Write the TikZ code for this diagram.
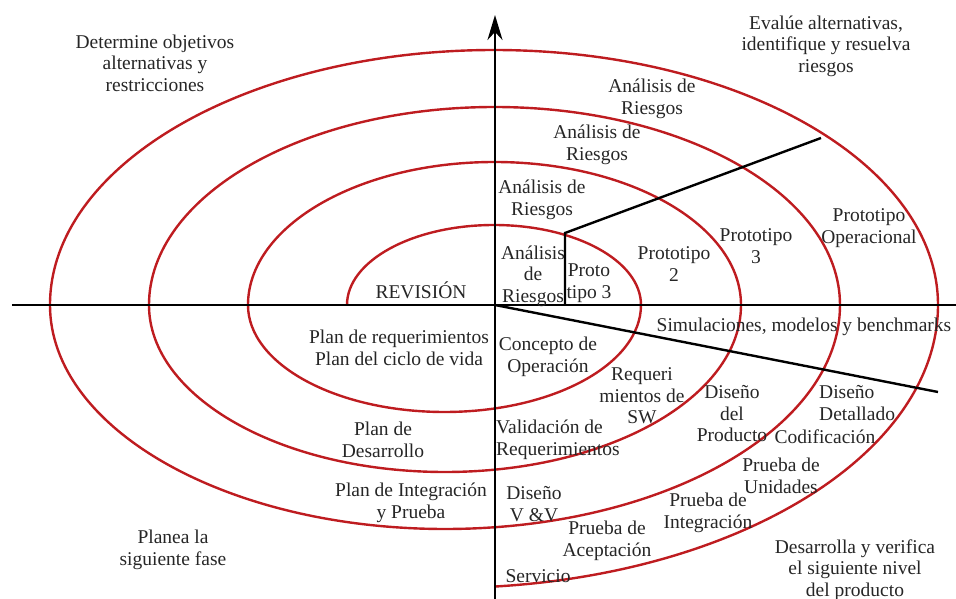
\documentclass[tikz,border=0pt]{standalone}
\usepackage{fontspec}
\setmainfont{Liberation Serif}
\usetikzlibrary{arrows.meta,calc,positioning}
\definecolor{spiralred}{RGB}{190,28,32}
\tikzset{axis/.style={
            line width=2.6pt,
            black},
        spiral/.style={
            line width=2.4pt,
            spiralred},
        cut/.style={
            line width=2.4pt,
            black},
        txt/.style={
            align=center,
            inner sep=1pt,
            text=black!85,
            font=\fontsize{19.5}{21.5}\selectfont}
    }
\begin{document}
\begin{tikzpicture}[x=1pt,y=1pt]
        \useasboundingbox (-495,-294) rectangle (461,305);
        \coordinate (O) at (0,0);
        \coordinate (west) at (-483,0);
        \coordinate (east) at (461,0);
        \coordinate (south) at (0,-294);
        \coordinate (north) at (0,290);
        \coordinate (bend) at (70,72);
        \coordinate (bendfoot) at (70,0);
        \coordinate (outer) at (326,167);
        \coordinate (rim) at (443,-87);
        % spiral, one half ellipse per turn
        \draw[spiral] (-148,0)
            arc[start angle=180,end angle=0,x radius=147pt,y radius=80pt]
            arc[start angle=0,end angle=-180,x radius=196.5pt,y radius=107pt]
            arc[start angle=180,end angle=0,x radius=246.5pt,y radius=143pt]
            arc[start angle=0,end angle=-180,x radius=296pt,y radius=167pt]
            arc[start angle=180,end angle=0,x radius=345.5pt,y radius=198pt]
            arc[start angle=0,end angle=-180,x radius=395pt,y radius=224pt]
            arc[start angle=180,end angle=0,x radius=444pt,y radius=255pt]
            arc[start angle=0,end angle=-84.2,x radius=493pt,y radius=283pt];
        \draw[axis] (west) -- (east);
        \draw[axis,-{Stealth[length=25pt,width=15pt,inset=8pt]}] (south) -- (north);
        \draw[cut] (bendfoot) -- (bend) -- (outer);
        \draw[cut] (O) -- (rim);
        % quadrants
        \node[txt] at (-340,242) (objetivos) {Determine objetivos\\alternativas y\\restricciones};
        \node[txt] at (331,259) (evalue) {Evalúe alternativas,\\identifique y resuelva\\riesgos};
        \node[txt] at (-322,-245) (planea) {Planea la\\siguiente fase};
        \node[txt] at (360,-265) (desarrolla) {Desarrolla y verifica\\el siguiente nivel\\del producto};
        % risk analysis and prototypes
        \node[txt] at (157,206) (riesgos4) {Análisis de\\Riesgos};
        \node[txt] at (102,160) (riesgos3) {Análisis de\\Riesgos};
        \node[txt] at (47,105) (riesgos2) {Análisis de\\Riesgos};
        \node[txt] at (38,29) (riesgos1) {Análisis\\de\\Riesgos};
        \node[txt] at (94,22) (proto1) {Proto\\tipo 3};
        \node[txt] at (179,41) (proto2) {Prototipo\\2};
        \node[txt] at (261,59) (proto3) {Prototipo\\3};
        \node[txt] at (374,77) (protoop) {Prototipo\\Operacional};
        \node[txt] at (-74,15) (revision) {REVISIÓN};
        \node[txt] at (309,-22) (simulaciones) {Simulaciones, modelos y benchmarks};
        % planning
        \node[txt] at (-96,-43) (planreq) {Plan de requerimientos\\Plan del ciclo de vida};
        \node[txt] at (-112,-135) (plandes) {Plan de\\Desarrollo};
        \node[txt] at (-84,-198) (planint) {Plan de Integración\\y Prueba};
        % engineering
        \node[txt] at (53,-52) (concepto) {Concepto de\\Operación};
        \node[txt] at (147,-91) (reqsw) {Requeri\\mientos de\\SW};
        \node[txt] at (237,-109) (disprod) {Diseño\\del\\Producto};
        \node[txt,align=left,anchor=west] at (323,-98) (disdet) {Diseño\\Detallado};
        \node[txt] at (330,-132) (codif) {Codificación};
        \node[txt] at (286,-171) (unidades) {Prueba de\\Unidades};
        \node[txt,align=left,anchor=west] at (0,-135) (validacion) {Validación de\\Requerimientos};
        \node[txt] at (39,-199) (disvv) {Diseño\\V \&V};
        \node[txt] at (213,-208) (integracion) {Prueba de\\Integración};
        \node[txt] at (112,-236) (aceptacion) {Prueba de\\Aceptación};
        \node[txt] at (43,-271) (servicio) {Servicio};
    \end{tikzpicture}
\end{document}
